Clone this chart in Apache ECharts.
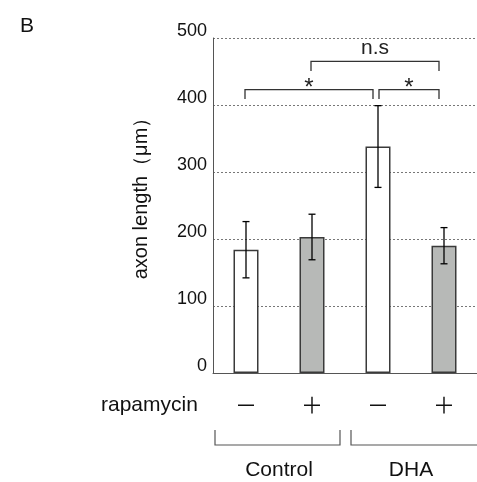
<!DOCTYPE html>
<html>
<head>
<meta charset="utf-8">
<script src="https://cdn.jsdelivr.net/npm/echarts@6/dist/echarts.min.js"></script>
<style>
  html, body { margin: 0; padding: 0; background: #fff; }
  #chart { width: 477px; height: 482px; }
</style>
</head>
<body>
<div id="chart"></div>
<script>
// rapamycin -/+ within Control and DHA groups
const categories = ['－', '＋', '－', '＋'];
const axonLength = [184, 203, 338, 190];
const axonError = [42, 34, 61, 27];
const barFill = ['#ffffff', '#b7b9b7', '#ffffff', '#b7b9b7'];

// significance brackets (category index from / to, level in µm)
const bracketFrom = [0, 2, 1];
const bracketTo = [2, 3, 3];
const bracketLevel = [423, 423, 465];
const bracketLabel = ['*', '*', 'n.s'];

// treatment groups under the axis
const groupNames = ['Control', 'DHA'];
const groupStart = [0, 2];
const groupEnd = [1, 3];

const yTicks = [0, 100, 200, 300, 400, 500];

const font = 'Liberation Sans, Arial, sans-serif';
const chart = echarts.init(document.getElementById('chart'));

const option = {
  animation: false,
  title: {
    text: 'B',
    left: 15,
    top: 11,
    textStyle: { fontFamily: font, fontSize: 21, fontWeight: 'normal', color: '#111' }
  },
  grid: { left: 213, right: 0, top: 38, bottom: 109 },
  xAxis: {
    type: 'category',
    data: categories,
    axisLine: { lineStyle: { color: '#555', width: 1 } },
    axisTick: { show: false },
    axisLabel: {
      margin: 21,
      fontFamily: 'Noto Sans CJK JP, sans-serif',
      fontSize: 22,
      color: '#111'
    }
  },
  yAxis: {
    type: 'value',
    min: yTicks[0],
    max: yTicks[yTicks.length - 1],
    interval: 100,
    name: 'axon length（μm）',
    nameLocation: 'middle',
    nameRotate: 90,
    nameGap: 62,
    nameTextStyle: { fontFamily: font, fontSize: 20, color: '#111', padding: [0, 0, 0, 24] },
    axisLine: { show: true, lineStyle: { color: '#555', width: 1 } },
    axisTick: { show: false },
    axisLabel: {
      margin: 6,
      fontFamily: font,
      fontSize: 18,
      color: '#111',
      verticalAlign: 'bottom',
      lineHeight: 14
    },
    splitLine: { lineStyle: { color: '#777', type: [2, 2], width: 1 } }
  },
  graphic: [{
    type: 'text',
    left: 101,
    top: 395,
    style: { text: 'rapamycin', font: '21px ' + font, fill: '#111' }
  }],
  series: [
    {
      type: 'bar',
      barWidth: 25,
      data: axonLength.map((v, i) => ({
        value: v,
        itemStyle: { color: barFill[i], borderColor: '#3a3a3a', borderWidth: 1.5 }
      })),
      z: 2
    },
    {
      type: 'custom',
      z: 3,
      data: axonLength.map((v, i) => [i, v, axonError[i]]),
      renderItem: function (params, api) {
        const i = api.value(0), v = api.value(1), e = api.value(2);
        const hi = api.coord([i, v + e]);
        const lo = api.coord([i, v - e]);
        const cap = 3.5;
        const st = { stroke: '#000', lineWidth: 1.3 };
        return {
          type: 'group',
          children: [
            { type: 'line', shape: { x1: hi[0], y1: hi[1], x2: lo[0], y2: lo[1] }, style: st },
            { type: 'line', shape: { x1: hi[0] - cap, y1: hi[1], x2: hi[0] + cap, y2: hi[1] }, style: st },
            { type: 'line', shape: { x1: lo[0] - cap, y1: lo[1], x2: lo[0] + cap, y2: lo[1] }, style: st }
          ]
        };
      }
    },
    {
      type: 'custom',
      z: 3,
      clip: false,
      data: bracketFrom.map((f, k) => [f, bracketTo[k], bracketLevel[k], k]),
      renderItem: function (params, api) {
        const f = api.value(0), t = api.value(1), lv = api.value(2), k = api.value(3);
        const a = api.coord([f, lv]);
        const b = api.coord([t, lv]);
        const touches = bracketTo.indexOf(f) >= 0;
        const x1 = a[0] + (touches ? 1 : -1);
        const x2 = b[0] - 5;
        const y = a[1];
        const drop = 9.5;
        const st = { stroke: '#333', lineWidth: 1.3 };
        const star = bracketLabel[k] === '*';
        return {
          type: 'group',
          children: [
            { type: 'polyline', shape: { points: [[x1, y + drop], [x1, y], [x2, y], [x2, y + drop]] }, style: Object.assign({ fill: null }, st) },
            {
              type: 'text',
              style: {
                text: bracketLabel[k],
                x: (x1 + x2) / 2,
                y: star ? y - 13 : y - 3,
                align: 'center',
                verticalAlign: star ? 'top' : 'bottom',
                font: (star ? '24px ' : '21px ') + font,
                fill: '#222'
              }
            }
          ]
        };
      }
    },
    {
      type: 'custom',
      z: 3,
      clip: false,
      data: groupStart.map((s, k) => [s, groupEnd[k], k]),
      renderItem: function (params, api) {
        const s = api.value(0), e = api.value(1), k = api.value(2);
        const band = api.size([1, 0])[0];
        const base = api.coord([s, 0]);
        const end = api.coord([e, 0]);
        const last = k === groupNames.length - 1;
        const x1 = base[0] - band / 2 + (k === 0 ? 2 : 6);
        const x2 = last ? end[0] + band / 2 + 10 : end[0] + band / 2 - 5;
        const y = base[1] + 72;
        const st = { stroke: '#555', lineWidth: 1.2, fill: null };
        return {
          type: 'group',
          children: [
            { type: 'polyline', shape: { points: [[x1, y - 15], [x1, y], [x2, y], [x2, y - 15]] }, style: st },
            {
              type: 'text',
              style: {
                text: groupNames[k],
                x: (base[0] + end[0]) / 2,
                y: y + 25,
                align: 'center',
                verticalAlign: 'middle',
                font: '21px ' + font,
                fill: '#111'
              }
            }
          ]
        };
      }
    }
  ]
};

chart.setOption(option);
</script>
</body>
</html>
